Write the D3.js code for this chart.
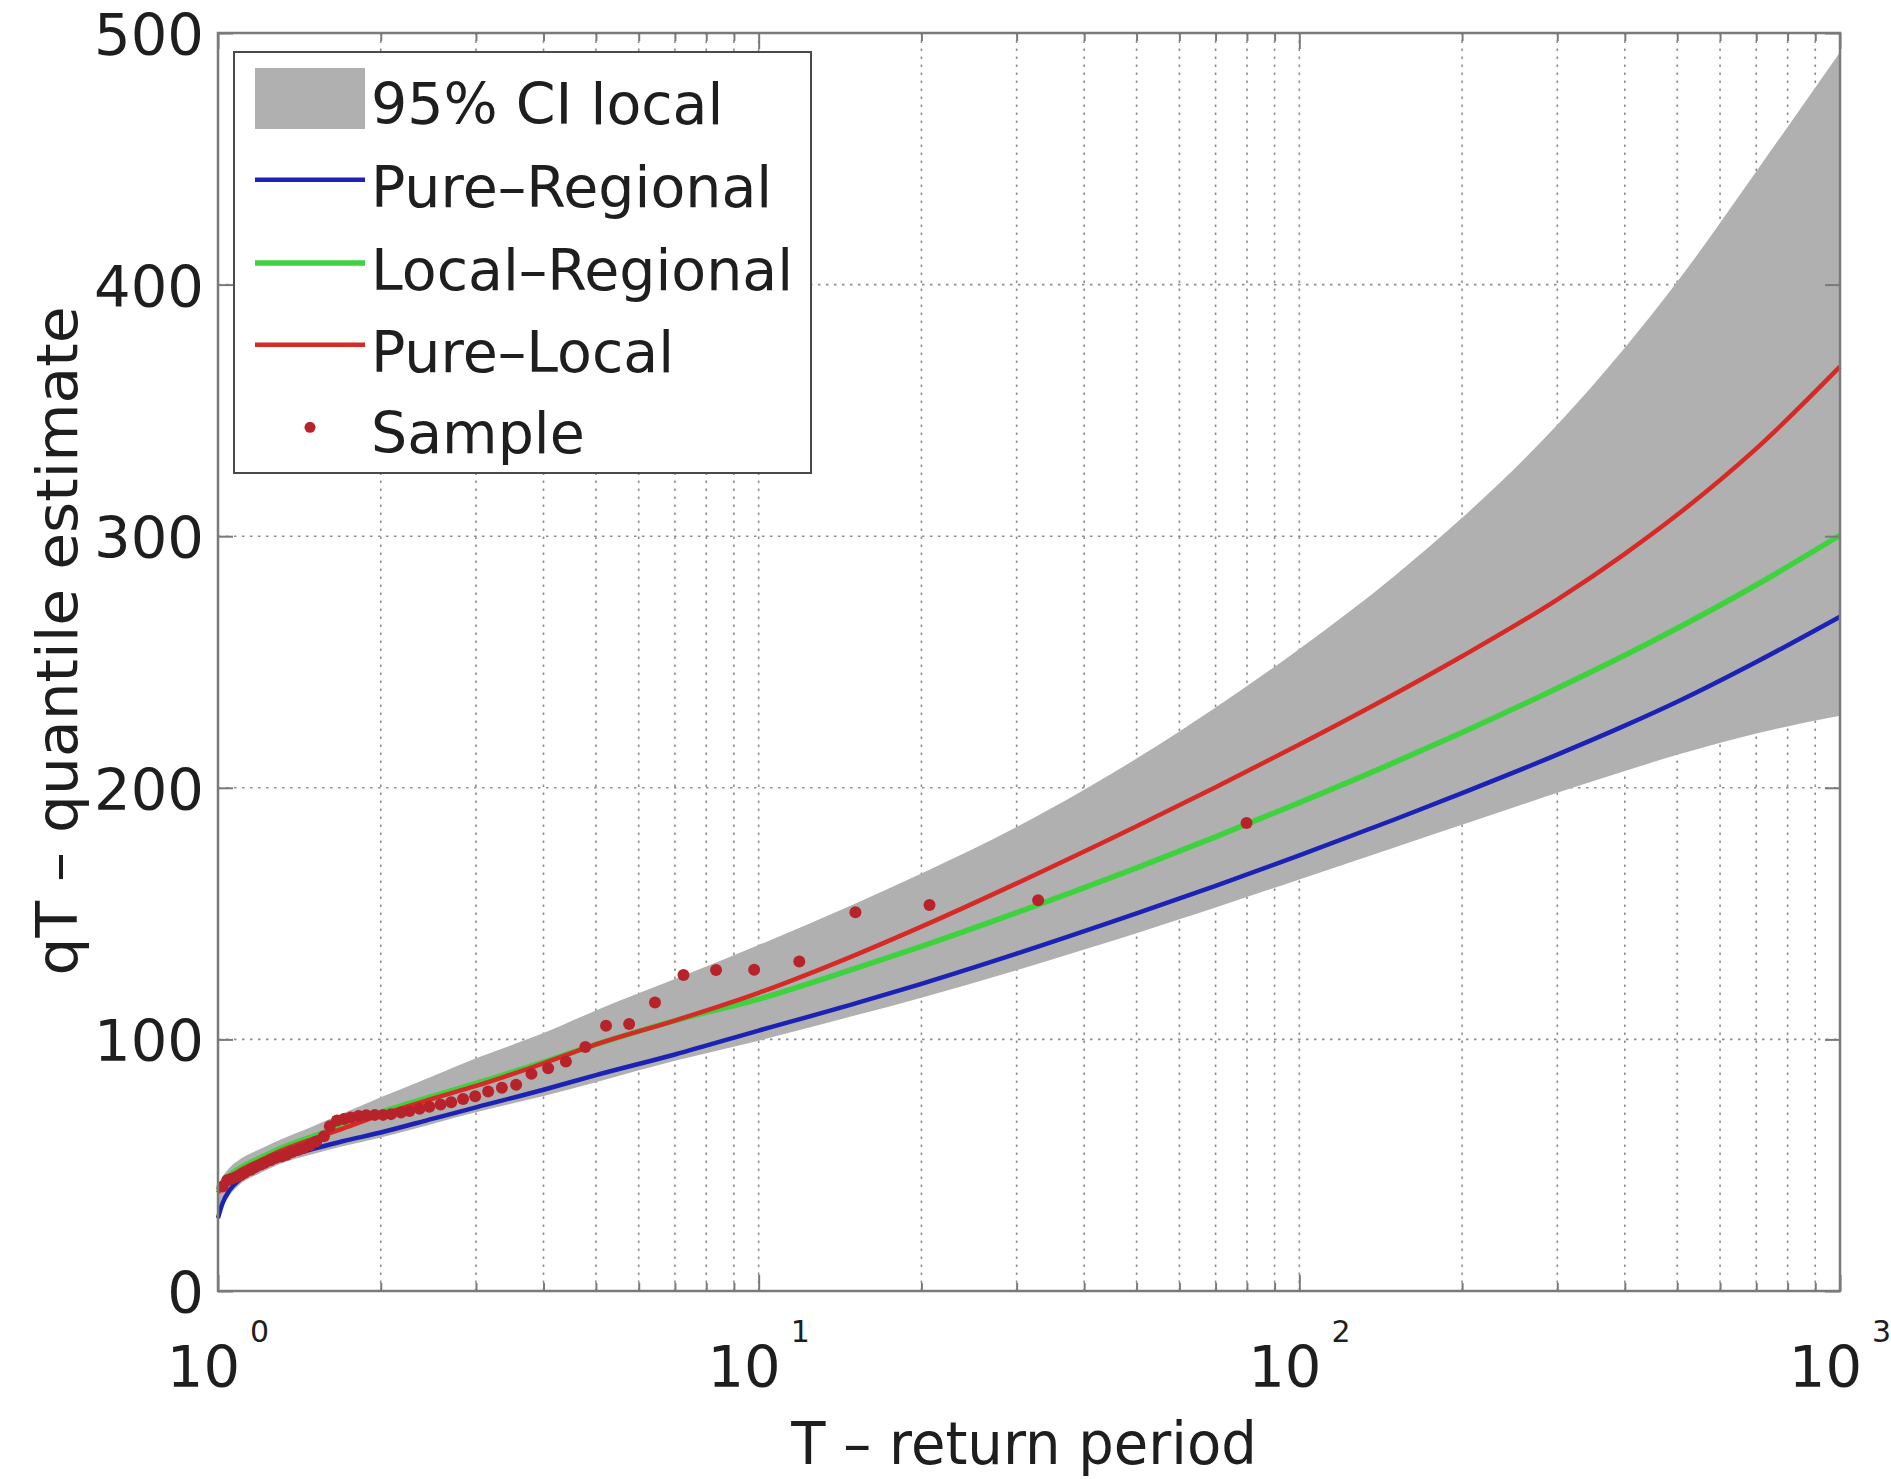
<!DOCTYPE html>
<html><head><meta charset="utf-8">
<script src="https://cdn.jsdelivr.net/npm/d3@7"></script>
<style>html,body{margin:0;padding:0;background:#fff;} svg{display:block;}</style>
</head><body><svg id="chart" width="1891" height="1479"></svg>
<script>
// ---------- data ----------
const returnPeriods = [1, 1.02, 1.05, 1.1, 1.2, 1.3, 1.5, 1.7, 2, 2.5, 3, 4, 5, 7, 10, 15, 20, 30, 50, 70, 100, 150, 200, 300, 400, 500, 700, 1000];
const pureRegional  = [29, 35, 40, 44.5, 49, 52.3, 56.5, 59.5, 63, 68.5, 73, 80, 85.8, 94, 103.5, 114.1, 122.1, 134.1, 150.1, 161, 173.1, 187.4, 197.9, 213.2, 224.7, 234.2, 250, 268];
const localRegional = [40, 43, 46, 49, 53, 56.5, 61.5, 65.5, 71, 77.5, 82.5, 91, 98, 107.5, 116, 128, 137, 150.4, 168.2, 180.5, 194.1, 210.1, 222, 239.6, 252.7, 263.4, 280.6, 300.4];
const pureLocal     = [39, 42, 45, 48, 52, 55.5, 60.5, 64.5, 70, 76.5, 81.5, 90.5, 98, 107.5, 118.5, 133.3, 144.8, 162, 184.7, 200.2, 217.2, 237.3, 252.3, 274.8, 293, 308.5, 334.8, 367.4];
const ciLower       = [31, 33.5, 38, 42.5, 47, 50.5, 54.5, 57.5, 61, 66.5, 71, 77.5, 83, 91.5, 99.5, 109.4, 116.6, 127.5, 142.2, 152.4, 163.6, 176.3, 185.3, 198, 206.7, 213.1, 221.6, 228.6];
const ciUpperT      = [1, 1.02, 1.05, 1.1, 1.2, 1.3, 1.5, 1.7, 2, 2.5, 3, 4, 5, 7, 10, 15, 20, 30, 40, 50, 60, 70, 100, 150, 200, 300, 400, 500, 700, 1000];
const ciUpper       = [42, 45.5, 49, 52.5, 56.5, 60, 65.5, 70.5, 77, 85.5, 92.5, 102.5, 111.5, 124, 137.5, 153.7, 165.9, 184.4, 199.2, 211.6, 222.4, 231.9, 255.2, 284.2, 307.3, 344.3, 374.9, 401.1, 445, 492.3];

const sampleT = [79.86, 32.88, 20.7, 15.1, 11.89, 9.81, 8.34, 7.26, 6.43, 5.76, 5.22, 4.78, 4.40, 4.08, 3.80, 3.56, 3.35, 3.16, 2.99, 2.84, 2.70, 2.58, 2.46, 2.36, 2.26, 2.18, 2.09, 2.02, 1.95, 1.88, 1.82, 1.76, 1.71, 1.66, 1.61, 1.57, 1.52, 1.48, 1.44, 1.41, 1.37, 1.34, 1.31, 1.28, 1.25, 1.22, 1.20, 1.17, 1.15, 1.12, 1.10, 1.08, 1.06, 1.04, 1.02];
const sampleQ = [186, 155.3, 153.4, 150.5, 131, 127.7, 127.6, 125.6, 114.7, 106.1, 105.4, 97, 91.2, 88.5, 86.3, 82.0, 80.8, 79.3, 77.4, 76.3, 75.0, 74.1, 73.2, 72.4, 71.5, 70.9, 70.3, 70.0, 70.0, 69.9, 69.6, 69.0, 68.4, 67.8, 65.5, 61.5, 59.4, 58.0, 56.8, 56.1, 55.2, 54.2, 53.5, 53.0, 52.0, 51.0, 50.3, 49.2, 48.2, 47.0, 46.0, 45.3, 44.6, 44.0, 41.5];

const yTickValues = [0, 100, 200, 300, 400, 500];
const xMajorExponents = [0, 1, 2, 3];
const xMinorTicks = [2,3,4,5,6,7,8,9,20,30,40,50,60,70,80,90,200,300,400,500,600,700,800,900];
const legendLabels = ["95% CI local", "Pure\u2013Regional", "Local\u2013Regional", "Pure\u2013Local", "Sample"];
const xTitle = "T \u2013 return period";
const yTitle = "qT \u2013 quantile estimate";

// ---------- styles ----------
const C = {
  fill: "#b0b0b0", blue: "#1b22b4", green: "#3ed23e", red: "#d52a26", dot: "#b8232b",
  axis: "#7a7a7a", grid: "#8e8e8e", text: "#1e1e1e", legendBorder: "#4a4a4a"
};
const FONT = "'DejaVu Sans', Verdana, sans-serif";

const svg = d3.select("#chart");
svg.append("rect").attr("width", 1891).attr("height", 1479).attr("fill", "#fff");

const x = d3.scaleLog().domain([1, 1000]).range([218, 1840]);
const y = d3.scaleLinear().domain([0, 500]).range([1291, 33]);

// ---------- grid ----------
const gridG = svg.append("g");
const xGrid = xMinorTicks.concat([10, 100]);
gridG.selectAll("line.vx").data(xGrid).join("line")
  .attr("x1", d => x(d)).attr("x2", d => x(d)).attr("y1", y(0)).attr("y2", y(500))
  .attr("stroke", C.grid).attr("stroke-width", 1.6).attr("stroke-dasharray", "2.5,5.5");
gridG.selectAll("line.hy").data(yTickValues.filter(v => v > 0 && v < 500)).join("line")
  .attr("x1", x(1)).attr("x2", x(1000)).attr("y1", d => y(d)).attr("y2", d => y(d))
  .attr("stroke", C.grid).attr("stroke-width", 1.6).attr("stroke-dasharray", "2.5,5.5");

// ---------- CI band ----------
const upperAt = d3.scaleLog().domain(ciUpperT).range(ciUpper);
const lowerAt = d3.scaleLog().domain(returnPeriods).range(ciLower);
const bandT = Array.from(new Set(returnPeriods.concat(ciUpperT))).sort((a, b) => a - b);
const band = bandT.map(t => ({T: t, lo: lowerAt(t), hi: upperAt(t)}));
svg.append("path").datum(band)
  .attr("d", d3.area().x(d => x(d.T)).y0(d => y(d.lo)).y1(d => y(d.hi)).curve(d3.curveMonotoneX))
  .attr("fill", C.fill);

// ---------- lines ----------
const line = d3.line().x(d => x(d[0])).y(d => y(d[1])).curve(d3.curveMonotoneX);
const series = [
  {vals: pureRegional, color: C.blue, w: 4.5},
  {vals: localRegional, color: C.green, w: 5.5},
  {vals: pureLocal, color: C.red, w: 4.5}
];
series.forEach(s => {
  svg.append("path").datum(returnPeriods.map((t, i) => [t, s.vals[i]]))
    .attr("d", line).attr("fill", "none").attr("stroke", s.color)
    .attr("stroke-width", s.w).attr("stroke-linejoin", "round");
});

// ---------- sample ----------
svg.append("g").selectAll("circle").data(sampleT.map((t, i) => [t, sampleQ[i]])).join("circle")
  .attr("cx", d => x(d[0])).attr("cy", d => y(d[1])).attr("r", 6).attr("fill", C.dot);

// ---------- axes (inward ticks on all four sides) ----------
function styleAxis(g) {
  g.select(".domain").remove();
  g.selectAll(".tick line").attr("stroke", C.axis).attr("stroke-width", 2);
  g.selectAll(".tick text").remove();
}
const xMajor = xMajorExponents.map(e => Math.pow(10, e));
svg.append("g").attr("transform", `translate(0,${y(0)})`)
  .call(d3.axisBottom(x).tickValues(xMinorTicks).tickSize(-8).tickFormat("")).call(styleAxis);
svg.append("g").attr("transform", `translate(0,${y(0)})`)
  .call(d3.axisBottom(x).tickValues(xMajor).tickSize(-16).tickFormat("")).call(styleAxis);
svg.append("g").attr("transform", `translate(0,${y(500)})`)
  .call(d3.axisTop(x).tickValues(xMinorTicks).tickSize(-8).tickFormat("")).call(styleAxis);
svg.append("g").attr("transform", `translate(0,${y(500)})`)
  .call(d3.axisTop(x).tickValues(xMajor).tickSize(-16).tickFormat("")).call(styleAxis);
svg.append("g").attr("transform", `translate(${x(1)},0)`)
  .call(d3.axisLeft(y).tickValues(yTickValues).tickSize(-15).tickFormat("")).call(styleAxis);
svg.append("g").attr("transform", `translate(${x(1000)},0)`)
  .call(d3.axisRight(y).tickValues(yTickValues).tickSize(-15).tickFormat("")).call(styleAxis);

svg.append("rect").attr("x", x(1)).attr("y", y(500))
  .attr("width", x(1000) - x(1)).attr("height", y(0) - y(500))
  .attr("fill", "none").attr("stroke", C.axis).attr("stroke-width", 2.5);

// ---------- tick labels ----------
svg.append("g").selectAll("text").data(yTickValues).join("text")
  .attr("transform", d => `translate(204,${y(d) + 22})`)
  .attr("text-anchor", "end").attr("font-family", FONT).attr("font-size", 57.6)
  .attr("fill", C.text).text(d => d);

const xl = svg.append("g").selectAll("text").data(xMajorExponents).join("text")
  .attr("transform", d => `translate(${x(Math.pow(10, d))},1387)`)
  .attr("text-anchor", "middle").attr("font-family", FONT).attr("font-size", 57.6)
  .attr("fill", C.text);
xl.append("tspan").text("10");
xl.append("tspan").attr("dy", -45).attr("dx", 10).attr("font-size", 30).text(d => d);

// ---------- axis titles ----------
svg.append("text").attr("transform", "translate(1024,1464) scale(0.95,1)")
  .attr("text-anchor", "middle").attr("font-family", FONT).attr("font-size", 59)
  .attr("fill", C.text).text(xTitle);
svg.append("text").attr("transform", "translate(77,641) rotate(-90) scale(1.05,1)")
  .attr("text-anchor", "middle").attr("font-family", FONT).attr("font-size", 57)
  .attr("fill", C.text).text(yTitle);

// ---------- legend ----------
const lg = svg.append("g");
lg.append("rect").attr("x", 234).attr("y", 52).attr("width", 577).attr("height", 421)
  .attr("fill", "#fff").attr("stroke", C.legendBorder).attr("stroke-width", 2);
const rowBase = [124, 206.7, 290, 371.7, 453.3];
lg.append("rect").attr("x", 255).attr("y", 68).attr("width", 110).attr("height", 61).attr("fill", C.fill);
[[C.blue, 4.5], [C.green, 5.5], [C.red, 4.5]].forEach((c, i) => {
  const yy = rowBase[i + 1] - 27;
  lg.append("line").attr("x1", 255).attr("x2", 365).attr("y1", yy).attr("y2", yy)
    .attr("stroke", c[0]).attr("stroke-width", c[1]);
});
lg.append("circle").attr("cx", 310).attr("cy", rowBase[4] - 26).attr("r", 5.5).attr("fill", C.dot);
lg.selectAll("text").data(legendLabels).join("text")
  .attr("transform", (d, i) => `translate(371,${rowBase[i]})`)
  .attr("font-family", FONT).attr("font-size", 57).attr("fill", C.text).text(d => d);
</script></body></html>
